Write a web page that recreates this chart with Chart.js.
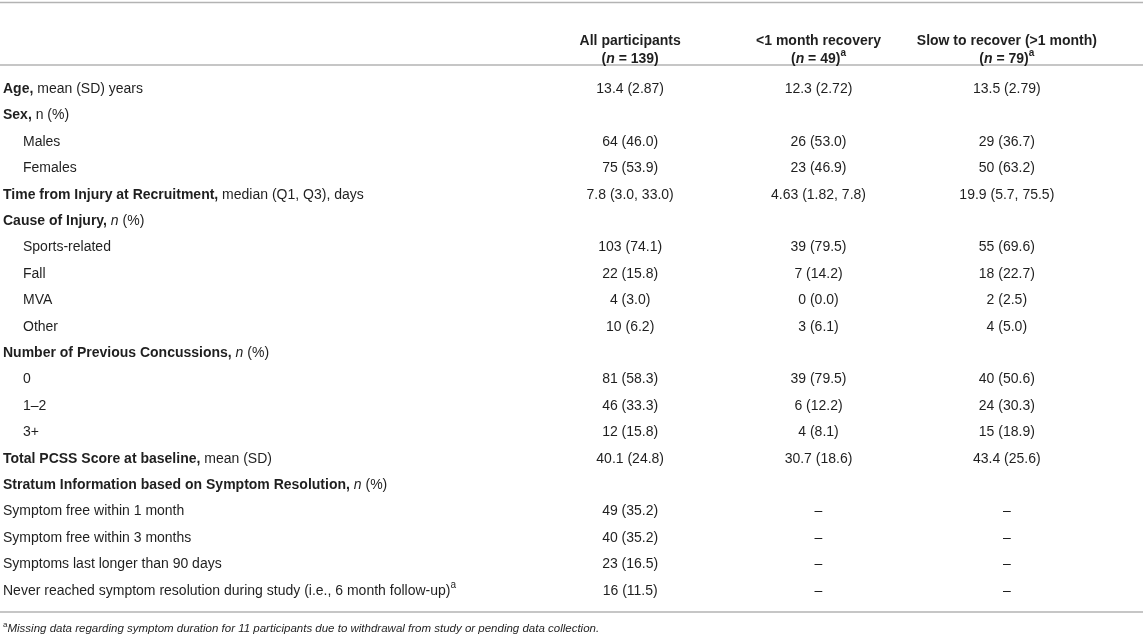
<!DOCTYPE html>
<html>
<head>
<meta charset="utf-8">
<script src="https://cdn.jsdelivr.net/npm/chart.js@4.4.1/dist/chart.umd.min.js"></script>
<style>
  html, body { margin: 0; padding: 0; background: #fff; }
  #wrap { width: 1143px; height: 638px; position: relative; }
</style>
</head>
<body>
<div id="wrap"><canvas id="myChart"></canvas></div>
<script>
// columns of the table
const colHeads = ['All participants', '<1 month recovery', 'Slow to recover (>1 month)'];
const colCounts = ['(_n_ = 139)', '(_n_ = 49)^a^', '(_n_ = 79)^a^'];

// rows: **bold**, _italic_, ^superscript^
const rowLabels = [
    '**Age,** mean (SD) years',
    '**Sex,** n (%)',
    'Males',
    'Females',
    '**Time from Injury at Recruitment,** median (Q1, Q3), days',
    '**Cause of Injury,** _n_ (%)',
    'Sports-related',
    'Fall',
    'MVA',
    'Other',
    '**Number of Previous Concussions,** _n_ (%)',
    '0',
    '1–2',
    '3+',
    '**Total PCSS Score at baseline,** mean (SD)',
    '**Stratum Information based on Symptom Resolution,** _n_ (%)',
    'Symptom free within 1 month',
    'Symptom free within 3 months',
    'Symptoms last longer than 90 days',
    'Never reached symptom resolution during study (i.e., 6 month follow-up)^a^'
];
const rowIndent = [0, 0, 1, 1, 0, 0, 1, 1, 1, 1, 0, 1, 1, 1, 0, 0, 0, 0, 0, 0];

const allParticipants = ['13.4 (2.87)', '', '64 (46.0)', '75 (53.9)', '7.8 (3.0, 33.0)', '',
    '103 (74.1)', '22 (15.8)', '4 (3.0)', '10 (6.2)', '',
    '81 (58.3)', '46 (33.3)', '12 (15.8)', '40.1 (24.8)', '',
    '49 (35.2)', '40 (35.2)', '23 (16.5)', '16 (11.5)'];
const fastRecovery = ['12.3 (2.72)', '', '26 (53.0)', '23 (46.9)', '4.63 (1.82, 7.8)', '',
    '39 (79.5)', '7 (14.2)', '0 (0.0)', '3 (6.1)', '',
    '39 (79.5)', '6 (12.2)', '4 (8.1)', '30.7 (18.6)', '',
    '–', '–', '–', '–'];
const slowRecovery = ['13.5 (2.79)', '', '29 (36.7)', '50 (63.2)', '19.9 (5.7, 75.5)', '',
    '55 (69.6)', '18 (22.7)', '2 (2.5)', '4 (5.0)', '',
    '40 (50.6)', '24 (30.3)', '15 (18.9)', '43.4 (25.6)', '',
    '–', '–', '–', '–'];

const footnote = '^a^_Missing data regarding symptom duration for 11 participants due to withdrawal from study or pending data collection._';

const FONT = '"Liberation Sans", Arial, Helvetica, sans-serif';
const TEXT = '#1f1f1f';
const RULE = '#b3b3b3';

function parseRich(str) {
    // split into runs with bold / italic / sup flags
    return str.split(/(\*\*[^*]+\*\*|_[^_]+_|\^[^^]+\^)/).filter(s => s.length).map(function (s) {
        if (s.startsWith('**')) return { t: s.slice(2, -2), b: true };
        if (s.startsWith('_')) return { t: s.slice(1, -1), i: true };
        if (s.startsWith('^')) return { t: s.slice(1, -1), sup: true };
        return { t: s };
    });
}

function drawRich(ctx, str, x, y, align, size, base) {
    base = base || {};
    const runs = parseRich(str);
    const fontOf = function (r) {
        const sz = r.sup ? Math.round(size * 0.68) : size;
        return ((r.i || base.i) ? 'italic ' : '') + ((r.b || base.b) ? 'bold ' : '') + sz + 'px ' + FONT;
    };
    let total = 0;
    runs.forEach(function (r) {
        ctx.font = fontOf(r);
        r.w = ctx.measureText(r.t).width;
        total += r.w;
    });
    let cx = align === 'center' ? x - total / 2 : x;
    ctx.textAlign = 'left';
    ctx.textBaseline = 'middle';
    runs.forEach(function (r) {
        ctx.font = fontOf(r);
        ctx.fillText(r.t, cx, r.sup ? y - size * 0.38 : y);
        cx += r.w;
    });
}

function hline(ctx, y, x0, x1) {
    ctx.save();
    ctx.strokeStyle = RULE;
    ctx.lineWidth = 1.6;
    ctx.beginPath();
    ctx.moveTo(x0, y);
    ctx.lineTo(x1, y);
    ctx.stroke();
    ctx.restore();
}

const tablePlugin = {
    id: 'tableText',
    afterDatasetsDraw(chart) {
        const ctx = chart.ctx;
        const area = chart.chartArea;
        const xs = chart.scales.x;
        const ys = chart.scales.y;
        const W = chart.width;
        ctx.save();
        ctx.fillStyle = TEXT;

        // rules
        hline(ctx, 2.5, 0, W);
        hline(ctx, area.top - 11, 0, W);
        hline(ctx, area.bottom + 8, 0, W);

        // column headers
        colHeads.forEach(function (h, c) {
            const px = xs.getPixelForValue(c);
            drawRich(ctx, h, px, area.top - 35, 'center', 14, { b: true });
            drawRich(ctx, colCounts[c], px, area.top - 17, 'center', 14, { b: true });
        });

        // row labels
        rowLabels.forEach(function (lab, r) {
            drawRich(ctx, lab, 3 + rowIndent[r] * 20, ys.getPixelForValue(r), 'left', 14);
        });

        // cell values at the points placed by the scales
        chart.data.datasets.forEach(function (ds, d) {
            const meta = chart.getDatasetMeta(d);
            meta.data.forEach(function (el, k) {
                drawRich(ctx, ds.cells[k], el.x, el.y, 'center', 14);
            });
        });

        drawRich(ctx, footnote, 3, area.bottom + 25, 'left', 11.5);
        ctx.restore();
    }
};

function cellData(values, col) {
    const pts = [];
    const cells = [];
    values.forEach(function (v, r) {
        if (v !== '') {
            pts.push({ x: colHeads[col], y: rowLabels[r] });
            cells.push(v);
        }
    });
    return { data: pts, cells: cells, pointRadius: 0, pointHoverRadius: 0, showLine: false };
}

const ctx = document.getElementById('myChart');

var c = new Chart(ctx, {
    type: 'scatter',
    data: {
        datasets: [
            cellData(allParticipants, 0),
            cellData(fastRecovery, 1),
            cellData(slowRecovery, 2)
        ]
    },
    options: {
        responsive: true,
        maintainAspectRatio: false,
        animation: false,
        events: [],
        layout: { padding: { top: 76, bottom: 34, left: 536, right: 42 } },
        plugins: { legend: { display: false }, tooltip: { enabled: false } },
        scales: {
            x: { type: 'category', labels: colHeads, offset: true, display: false },
            y: { type: 'category', labels: rowLabels, offset: true, display: false }
        }
    },
    plugins: [tablePlugin]
});
</script>
</body>
</html>
